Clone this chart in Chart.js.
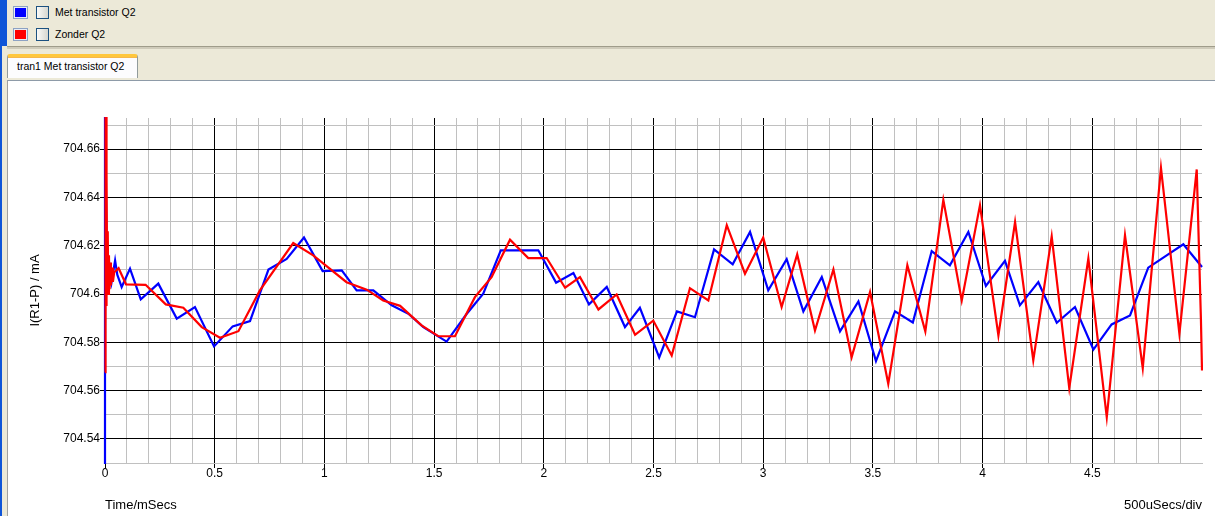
<!DOCTYPE html>
<html>
<head>
<meta charset="utf-8">
<script src="https://cdn.jsdelivr.net/npm/chart.js@4.4.1/dist/chart.umd.min.js"></script>
<style>
html,body{margin:0;padding:0;width:1215px;height:516px;overflow:hidden;background:#ECE9D8;font-family:"Liberation Sans",Arial,sans-serif;}
#leftbar{position:absolute;left:0;top:0;width:7px;height:46px;background:#0F55D8;}
#leftline{position:absolute;left:0;top:46px;width:2px;height:470px;background:#0F55D8;}
.sw{position:absolute;left:13px;width:13px;height:11px;border:1px solid #8DA2C3;box-shadow:inset 0 0 0 1px #E8ECF4;}
.cb{position:absolute;left:36px;width:11px;height:11px;border:1px solid #1C5180;background:linear-gradient(to right,#FAFAF8,#D6D6CF);}
.lg{position:absolute;left:55px;font-size:10.5px;line-height:13px;color:#000;white-space:nowrap;}
#sep1{position:absolute;left:7px;right:0;top:46px;height:1px;background:#9F9C8A;}
#sep2{position:absolute;left:7px;right:0;top:47px;height:2px;background:#CFCBBA;}
#tab{position:absolute;left:7px;top:54px;width:129px;height:21px;background:#FCFCFE;border-left:1px solid #919B9C;border-right:1px solid #919B9C;border-top:3px solid #FFC73C;border-radius:3px 3px 0 0;box-shadow:inset 0 1px 0 #F5B74A;}
#tabtxt{position:absolute;left:9px;top:3px;font-size:10.5px;line-height:13px;white-space:nowrap;color:#000;}
#panel{position:absolute;left:7px;top:80px;right:0;bottom:0;background:#FFFFFF;border-top:1px solid #8E9BA8;border-left:1px solid #A0A0A0;}
#chartbox{position:absolute;left:0;top:0;width:1215px;height:516px;}
</style>
</head>
<body>
<div id="leftbar"></div>
<div id="leftline"></div>
<div class="sw" style="top:6px;background:#0000FF;"></div>
<div class="cb" style="top:6px;"></div>
<div class="lg" style="top:6px;">Met transistor Q2</div>
<div class="sw" style="top:28px;background:#FF0000;"></div>
<div class="cb" style="top:28px;"></div>
<div class="lg" style="top:28px;">Zonder Q2</div>
<div id="sep1"></div>
<div id="sep2"></div>
<div id="tab"><div id="tabtxt">tran1 Met transistor Q2</div></div>
<div id="panel"></div>
<div id="chartbox"><canvas id="c" width="1215" height="516"></canvas></div>
<script>
// ---- data (time in ms, current in mA) ----
const blueName = 'Met transistor Q2';
const redName = 'Zonder Q2';

const timeBlue = [0, 0, 0.008, 0.020, 0.030, 0.046, 0.056, 0.076, 0.114, 0.163, 0.243, 0.327, 0.410, 0.497,
  0.582, 0.661, 0.745, 0.828, 0.907, 0.992, 1.079, 1.147, 1.223, 1.307, 1.383, 1.451, 1.557, 1.649, 1.724,
  1.804, 1.975, 2.056, 2.135, 2.206, 2.287, 2.370, 2.438, 2.526, 2.607, 2.689, 2.776, 2.861, 2.940, 3.023,
  3.107, 3.183, 3.267, 3.350, 3.434, 3.514, 3.601, 3.682, 3.768, 3.851, 3.935, 4.015, 4.102, 4.170, 4.254,
  4.338, 4.421, 4.505, 4.588, 4.672, 4.755, 4.839, 4.915, 5.0];
const valuesBlue = [704.525, 704.68, 704.610, 704.612, 704.6050, 704.6139, 704.608, 704.6029, 704.6105, 704.5978,
  704.6043, 704.5898, 704.5946, 704.5783, 704.5866, 704.5888, 704.6101, 704.6145, 704.6234, 704.6095, 704.6098,
  704.6015, 704.6015, 704.5953, 704.5918, 704.5863, 704.5803, 704.5918, 704.6001, 704.6181, 704.6181, 704.6047,
  704.6087, 704.5957, 704.6029, 704.5863, 704.5943, 704.5737, 704.5928, 704.5904, 704.6185, 704.6123, 704.6257,
  704.6015, 704.6144, 704.5928, 704.6070, 704.5845, 704.5969, 704.5722, 704.5928, 704.5882, 704.6178, 704.6119,
  704.6257, 704.6033, 704.6137, 704.5953, 704.6049, 704.5881, 704.5946, 704.5770, 704.5874, 704.5911, 704.6109,
  704.6160, 704.6206, 704.6112];

const timeRed = [0, 0.001, 0.002, 0.003, 0.004, 0.005, 0.006, 0.008, 0.010, 0.0125, 0.015, 0.018, 0.021, 0.024,
  0.027, 0.032, 0.036, 0.042, 0.062, 0.096, 0.185, 0.277, 0.357, 0.441, 0.524, 0.608, 0.706, 0.858, 0.949,
  1.101, 1.193, 1.268, 1.345, 1.443, 1.519, 1.595, 1.686, 1.762, 1.846, 1.929, 2.013, 2.097, 2.165, 2.249,
  2.332, 2.416, 2.499, 2.583, 2.666, 2.750, 2.834, 2.917, 3.000, 3.084, 3.155, 3.236, 3.320, 3.403, 3.487,
  3.570, 3.657, 3.739, 3.821, 3.905, 3.988, 4.072, 4.148, 4.231, 4.315, 4.395, 4.482, 4.566, 4.649, 4.730,
  4.813, 4.897, 4.976, 4.995, 5.0];
const valuesRed = [704.5676, 704.68, 704.58, 704.68, 704.585, 704.675, 704.595, 704.650, 704.600, 704.626,
  704.600, 704.616, 704.602, 704.613, 704.6035, 704.611, 704.605, 704.609, 704.6107, 704.604, 704.6038,
  704.5957, 704.5943, 704.5863, 704.5819, 704.5846, 704.6015, 704.6211, 704.6160, 704.6049, 704.6018,
  704.5973, 704.5951, 704.5870, 704.5825, 704.5825, 704.5987, 704.6070, 704.6225, 704.6149, 704.6149,
  704.6026, 704.6070, 704.5936, 704.5998, 704.5831, 704.5890, 704.5745, 704.6024, 704.5973, 704.6285,
  704.6084, 704.6234, 704.5946, 704.6164, 704.5849, 704.6102, 704.5738, 704.6008, 704.5628, 704.6119,
  704.5845, 704.6390, 704.5973, 704.6368, 704.5828, 704.6298, 704.5725, 704.6239, 704.5610, 704.6147,
  704.5489, 704.6243, 704.5693, 704.6522, 704.5835, 704.6516, 704.590, 704.5683];

const xTickLabels = ['0', '0.5', '1', '1.5', '2', '2.5', '3', '3.5', '4', '4.5'];
const yTickLabels = ['704.54', '704.56', '704.58', '704.6', '704.62', '704.64', '704.66'];
const xTitle = 'Time/mSecs';
const yTitle = 'I(R1-P) / mA';
const divLabel = '500uSecs/div';

// ---- helpers ----
const FONT = '"Liberation Sans", Arial, sans-serif';
Chart.defaults.font.family = FONT;
const xMajor = xTickLabels.map(Number);
const yMajor = yTickLabels.map(Number);
const near = (a, b) => Math.abs(a - b) < 1e-6;
const xLabelOf = v => { const k = xMajor.findIndex(t => near(t, v)); return k >= 0 ? xTickLabels[k] : ''; };
const yLabelOf = v => { const k = yMajor.findIndex(t => near(t, v)); return k >= 0 ? yTickLabels[k] : ''; };
// grid line positions: every 0.1 ms / every 0.01 mA
const xGrid = []; for (let i = 0; i < 50; i++) xGrid.push(i / 10);
const yGrid = []; for (let i = 0; i <= 14; i++) yGrid.push((70453 + i) / 100);

const toPts = (xs, ys) => xs.map((x, i) => ({x: x, y: ys[i]}));

const cornerLabel = {
  id: 'cornerLabel',
  afterDraw(chart) {
    const {ctx, chartArea} = chart;
    ctx.save();
    ctx.font = '13px ' + FONT;
    ctx.fillStyle = '#000';
    ctx.textAlign = 'right';
    ctx.textBaseline = 'middle';
    ctx.fillText(divLabel, chartArea.right, chart.scales.x.bottom - 10.5);
    ctx.restore();
  }
};

new Chart(document.getElementById('c'), {
  type: 'line',
  data: {
    datasets: [
      {label: redName, data: toPts(timeRed, valuesRed), borderColor: '#FF0000', borderWidth: 2.2,
       pointRadius: 0, tension: 0, fill: false, order: 0, clip: {left: 3, top: 1, right: 1, bottom: 1}},
      {label: blueName, data: toPts(timeBlue, valuesBlue), borderColor: '#0000FF', borderWidth: 2.2,
       pointRadius: 0, tension: 0, fill: false, order: 1, clip: {left: 3, top: 1, right: 1, bottom: 1}}
    ]
  },
  options: {
    responsive: false,
    animation: false,
    devicePixelRatio: 1,
    layout: {padding: {top: 118, right: 13, left: 0, bottom: 0}},
    plugins: {legend: {display: false}, tooltip: {enabled: false}},
    scales: {
      x: {
        type: 'linear', min: 0, max: 5,
        afterFit(s) { s.height = 53; },
        afterBuildTicks(s) { s.ticks = xGrid.map(v => ({value: v})); },
        ticks: {autoSkip: false, maxRotation: 0, minRotation: 0, padding: -2, color: '#000',
                font: {size: 12}, callback: v => xLabelOf(v)},
        grid: {color: c => xLabelOf(c.tick.value) ? '#000000' : '#C0C0C0',
               tickColor: c => xLabelOf(c.tick.value) ? '#000000' : 'rgba(0,0,0,0)',
               tickLength: 5, lineWidth: 1},
        border: {color: '#C0C0C0', width: 1},
        title: {display: true, text: xTitle, align: 'start', color: '#000', font: {size: 13},
                padding: {top: 0, bottom: 3}}
      },
      y: {
        type: 'linear', min: 704.53, max: 704.6729,
        afterFit(s) { s.width = 105; },
        afterBuildTicks(s) { s.ticks = yGrid.map(v => ({value: v})); },
        ticks: {autoSkip: false, padding: 0, color: '#000', font: {size: 12}, callback: v => yLabelOf(v)},
        grid: {color: c => yLabelOf(c.tick.value) ? '#000000' : '#C0C0C0',
               tickColor: c => yLabelOf(c.tick.value) ? '#000000' : 'rgba(0,0,0,0)',
               tickLength: 5, lineWidth: 1},
        border: {color: '#000000', width: 1},
        title: {display: true, text: yTitle, color: '#000', font: {size: 13},
                padding: {top: 28, bottom: 0}}
      }
    }
  },
  plugins: [cornerLabel]
});
</script>
</body>
</html>
